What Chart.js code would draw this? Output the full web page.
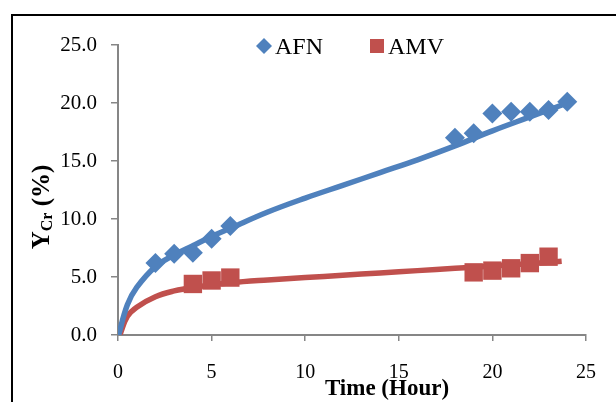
<!DOCTYPE html>
<html>
<head>
<meta charset="utf-8">
<script src="https://cdn.jsdelivr.net/npm/chart.js@4.4.1/dist/chart.umd.min.js"></script>
<style>
  html, body { margin: 0; padding: 0; background: #fff; overflow: hidden; }
  #frame { position: absolute; left: 11px; top: 14px; width: 800px; height: 600px;
           border-left: 2px solid #000; border-top: 2px solid #000; }
  #yieldChart { position: absolute; left: 0; top: 0; }
</style>
</head>
<body>
<div id="frame"></div>
<canvas id="yieldChart" width="616" height="402"></canvas>
<script>
// Cr yield vs time, measured points and fitted curves
const afnTime = [2, 3, 4, 5, 6, 18, 19, 20, 21, 22, 23, 24];
const afnYield = [6.2, 7.0, 7.1, 8.3, 9.4, 17.0, 17.4, 19.1, 19.25, 19.25, 19.4, 20.1];
const amvTime = [4, 5, 6, 19, 20, 21, 22, 23];
const amvYield = [4.4, 4.7, 4.95, 5.4, 5.55, 5.75, 6.2, 6.75];

// fitted curves
const afnFitTime = [0, 0.5, 1, 2, 3, 4, 5, 6, 8, 10, 12, 14, 16, 18, 20, 22, 24];
const afnFitYield = [-0.2, 2.6, 4.1, 5.9, 6.9, 7.7, 8.5, 9.2, 10.6, 11.8, 12.9, 14.0, 15.1, 16.3, 17.6, 18.8, 20.0];
const amvFitTime = [0.1, 0.5, 1, 2, 3, 4, 6, 8, 10, 12, 14, 16, 18, 20, 22, 23.7];
const amvFitYield = [0, 1.6, 2.4, 3.3, 3.8, 4.1, 4.5, 4.75, 4.95, 5.15, 5.35, 5.55, 5.75, 5.95, 6.15, 6.35];

const xTicks = [0, 5, 10, 15, 20, 25];
const yTicks = [0, 5, 10, 15, 20, 25];

const BLUE = '#4F81BD';
const RED = '#C0504D';
const AXIS = '#868686';
const SERIF = '"Liberation Serif", "Times New Roman", serif';

const toXY = (xs, ys) => xs.map((x, i) => ({ x: x, y: ys[i] }));

// legend + axis titles drawn by hand (subscript, offset title)
const decorPlugin = {
    id: 'decor',
    afterDraw(chart) {
        const ctx = chart.ctx;
        ctx.save();

        // legend
        const ly = 46;
        ctx.fillStyle = BLUE;
        ctx.beginPath();
        ctx.moveTo(264, ly - 8);
        ctx.lineTo(272, ly);
        ctx.lineTo(264, ly + 8);
        ctx.lineTo(256, ly);
        ctx.closePath();
        ctx.fill();
        ctx.fillStyle = RED;
        ctx.fillRect(370, ly - 7, 14, 14);

        ctx.fillStyle = '#000';
        ctx.font = '24px ' + SERIF;
        ctx.textBaseline = 'alphabetic';
        ctx.textAlign = 'left';
        ctx.fillText('AFN', 275, ly + 8);
        ctx.fillText('AMV', 388, ly + 8);

        // x title
        ctx.font = 'bold 23px ' + SERIF;
        ctx.textAlign = 'center';
        ctx.fillText('Time (Hour)', 387, 395);

        // y title with subscript
        ctx.translate(49, 207);
        ctx.rotate(-Math.PI / 2);
        const big = 'bold 25px ' + SERIF;
        const small = 'bold 16px ' + SERIF;
        ctx.textAlign = 'left';
        ctx.font = big;
        const wY = ctx.measureText('Y').width;
        const wP = ctx.measureText(' (%)').width;
        ctx.font = small;
        const wC = ctx.measureText('Cr').width;
        const x0 = -(wY + wC + wP) / 2;
        ctx.font = big;
        ctx.fillText('Y', x0, 0);
        ctx.font = small;
        ctx.fillText('Cr', x0 + wY, 3);
        ctx.font = big;
        ctx.fillText(' (%)', x0 + wY + wC, 0);
        ctx.restore();
    }
};

new Chart(document.getElementById('yieldChart'), {
    type: 'scatter',
    data: {
        datasets: [
            {
                label: 'AFN',
                data: toXY(afnTime, afnYield),
                pointStyle: 'rectRot',
                pointRadius: 10,
                pointBorderWidth: 0,
                backgroundColor: BLUE,
                borderColor: BLUE,
                order: 1
            },
            {
                label: 'AMV',
                data: toXY(amvTime, amvYield),
                pointStyle: 'rect',
                pointRadius: 13,
                pointBorderWidth: 0,
                backgroundColor: RED,
                borderColor: RED,
                order: 2
            },
            {
                label: 'AFN fit',
                data: toXY(afnFitTime, afnFitYield),
                showLine: true,
                pointRadius: 0,
                borderColor: BLUE,
                borderWidth: 5.5,
                tension: 0.4,
                order: 3
            },
            {
                label: 'AMV fit',
                data: toXY(amvFitTime, amvFitYield),
                showLine: true,
                pointRadius: 0,
                borderColor: RED,
                borderWidth: 5.5,
                tension: 0.4,
                order: 4
            }
        ]
    },
    options: {
        responsive: false,
        animation: false,
        devicePixelRatio: 1,
        layout: { padding: { left: 0, top: 45, right: 24, bottom: 0 } },
        plugins: {
            legend: { display: false },
            tooltip: { enabled: false }
        },
        scales: {
            x: {
                type: 'linear',
                min: 0,
                max: 25,
                afterBuildTicks: (scale) => { scale.ticks = xTicks.map(v => ({ value: v })); },
                afterFit: (scale) => { scale.height = 67; },
                border: { color: AXIS, width: 2 },
                grid: { drawOnChartArea: false, drawTicks: true, tickLength: 6, color: AXIS, lineWidth: 1.5 },
                ticks: { color: '#000', padding: 20, maxRotation: 0, font: { family: SERIF, size: 20 } }
            },
            y: {
                type: 'linear',
                min: 0,
                max: 25,
                afterBuildTicks: (scale) => { scale.ticks = yTicks.map(v => ({ value: v })); },
                afterFit: (scale) => { scale.width = 118; },
                border: { color: AXIS, width: 2 },
                grid: { drawOnChartArea: false, drawTicks: true, tickLength: 7, color: AXIS, lineWidth: 1.5 },
                ticks: {
                    color: '#000',
                    padding: 14,
                    font: { family: SERIF, size: 21 },
                    callback: (v) => Number(v).toFixed(1)
                }
            }
        }
    },
    plugins: [decorPlugin]
});
</script>
</body>
</html>
